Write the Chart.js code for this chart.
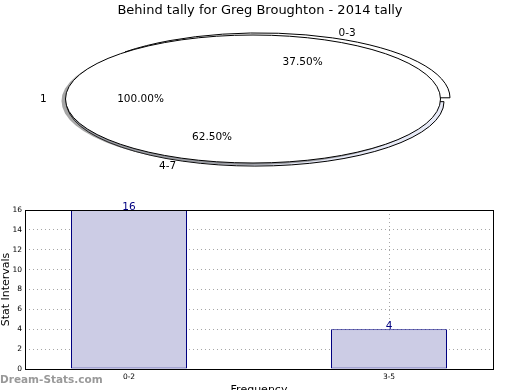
<!DOCTYPE html>
<html>
<head>
<meta charset="utf-8">
<script src="https://cdn.jsdelivr.net/npm/chart.js@4"></script>
<style>
  html, body { margin: 0; padding: 0; background: #fff; overflow: hidden; }
  body { width: 520px; height: 390px; position: relative; }
  canvas { position: absolute; left: 0; }
  #title { position: absolute; left: 0; top: 2px; width: 520px; text-align: center;
           font: 13px "DejaVu Sans", sans-serif; color: #000; }
</style>
</head>
<body>
<canvas id="barChart" width="520" height="207" style="top:190px;width:520px;height:207px"></canvas>
<canvas id="tallyPie" width="520" height="200" style="top:0;width:520px;height:200px"></canvas>
<canvas id="mainPie" width="520" height="200" style="top:0;width:520px;height:200px"></canvas>
<div id="title">Behind tally for Greg Broughton - 2014 tally</div>
<script>
// data
const pieCats = ['1'];
const pieVals = [1];
const tallyCats = ['0-3', '4-7'];
const tallyVals = [6, 10];
const barCats = ['0-2', '3-5'];
const barVals = [16, 4];

const FONT = '"DejaVu Sans", sans-serif';
const RATIO = 64 / 187.5; // ellipse squash

// flattens the pie vertically, keeps stroke widths even
const squash = {
    id: 'squash',
    beforeDatasetsDraw(chart, args, opts) {
        const ctx = chart.ctx;
        const a = chart.chartArea;
        const cy = (a.top + a.bottom) / 2;
        const dpr = chart.currentDevicePixelRatio;
        const proto = CanvasRenderingContext2D.prototype;
        ctx.save();
        ctx.translate(0, cy);
        ctx.scale(1, RATIO);
        ctx.translate(0, -cy);
        if (opts.shadow) {
            ctx.shadowColor = 'rgba(77,77,77,0.5)';
            ctx.shadowOffsetX = -4;
            ctx.shadowOffsetY = 2;
            ctx.shadowBlur = 0;
        }
        ctx.stroke = function () {
            this.save();
            this.setTransform(dpr, 0, 0, dpr, 0, 0);
            this.shadowColor = 'rgba(0,0,0,0)';
            proto.stroke.call(this);
            this.restore();
        };
        if (opts.seamless) {
            // full circle: no radius line to the centre
            ctx.lineTo = function () {};
            ctx.arc = function (x, y, r, ...rest) {
                if (r > 0.5) proto.arc.call(this, x, y, r, ...rest);
            };
        }
    },
    afterDatasetsDraw(chart) {
        const ctx = chart.ctx;
        delete ctx.stroke;
        delete ctx.lineTo;
        delete ctx.arc;
        ctx.restore();
    }
};

// matplotlib style labels: name at 1.1r, percent at 0.6r
function drawPieLabels(c, ctx) {
    const a = c.chartArea;
    const cy = (a.top + a.bottom) / 2;
    const ds = c.data.datasets[0];
    const vals = ds.data;
    const total = vals.reduce((s, v) => s + v, 0);
    const r = ds.radius;
    ctx.save();
    ctx.fillStyle = '#000';
    ctx.textBaseline = 'middle';
    ctx.font = '10.5px ' + FONT;
    c.getDatasetMeta(0).data.forEach((arc, i) => {
        const p = arc.getProps(['x', 'y', 'startAngle', 'endAngle']);
        const mid = (p.startAngle + p.endAngle) / 2;
        const ux = Math.cos(mid), uy = Math.sin(mid);
        const shift = (ds.offset ? ds.offset[i] : 0) / 4;
        const xAt = k => p.x + ux * (r * k + shift);
        const yAt = k => cy + (p.y + uy * (r * k + shift) - cy) * RATIO;
        ctx.textAlign = ux > 0.001 ? 'left' : 'right';
        ctx.fillText(c.data.labels[i], xAt(1.1), yAt(1.1));
        ctx.textAlign = 'center';
        ctx.fillText((vals[i] / total * 100).toFixed(2) + '%', xAt(0.6), yAt(0.6));
    });
    ctx.restore();
}

let tallyChart;
const pieLabels = {
    id: 'pieLabels',
    afterDatasetsDraw(chart) {
        [tallyChart, chart].forEach(c => drawPieLabels(c, chart.ctx));
    }
};

tallyChart = new Chart(document.getElementById('tallyPie'), {
    type: 'pie',
    data: {
        labels: tallyCats,
        datasets: [{
            data: tallyVals,
            radius: 187.5,
            backgroundColor: ['#ffffff', '#e7eaf7'],
            borderColor: '#000',
            borderWidth: 1,
            offset: [40.6, 5.6],
            clip: false
        }]
    },
    options: {
        responsive: false,
        animation: false,
        rotation: -45,
        layout: { padding: { left: 0, right: 8.7, top: 2.3, bottom: 0 } },
        events: [],
        plugins: { legend: { display: false }, tooltip: { enabled: false }, squash: { shadow: false } }
    },
    plugins: [squash]
});

new Chart(document.getElementById('mainPie'), {
    type: 'pie',
    data: {
        labels: pieCats,
        datasets: [{
            data: pieVals,
            radius: 187.5,
            backgroundColor: '#ffffff',
            borderColor: '#000',
            borderWidth: 1,
            clip: false
        }]
    },
    options: {
        responsive: false,
        animation: false,
        rotation: 90,
        layout: { padding: { left: 0, right: 14, top: 0, bottom: 2 } },
        events: [],
        plugins: { legend: { display: false }, tooltip: { enabled: false }, squash: { shadow: true, seamless: true } }
    },
    plugins: [squash, pieLabels]
});

// frame, value labels, watermark
const barExtras = {
    id: 'barExtras',
    afterDraw(chart) {
        const ctx = chart.ctx;
        const a = chart.chartArea;
        ctx.save();
        ctx.strokeStyle = '#000';
        ctx.lineWidth = 1;
        ctx.strokeRect(a.left + 0.5, a.top + 0.5, a.right - a.left, a.bottom - a.top);
        ctx.fillStyle = '#000080';
        ctx.font = '10.5px ' + FONT;
        ctx.textAlign = 'center';
        ctx.textBaseline = 'alphabetic';
        chart.getDatasetMeta(0).data.forEach((bar, i) => {
            ctx.fillText(String(barVals[i]), bar.x, bar.y);
        });
        ctx.fillStyle = '#999';
        ctx.font = 'bold 10.5px ' + FONT;
        ctx.textAlign = 'left';
        ctx.textBaseline = 'middle';
        ctx.fillText('Dream-Stats.com', 0, 190);
        ctx.restore();
    }
};

new Chart(document.getElementById('barChart'), {
    type: 'bar',
    data: {
        datasets: [{
            data: barCats.map((c, i) => ({ x: i, y: barVals[i] })),
            backgroundColor: '#ccccE5',
            borderColor: '#000080',
            borderWidth: 1,
            borderSkipped: false,
            barPercentage: 116 / 260,
            categoryPercentage: 1
        }]
    },
    options: {
        responsive: false,
        animation: false,
        events: [],
        layout: { padding: { left: 0, right: 27, top: 20, bottom: 0 } },
        plugins: { legend: { display: false }, tooltip: { enabled: false } },
        scales: {
            x: {
                type: 'linear',
                min: -0.4,
                max: 1.4,
                offset: false,
                z: 1,
                afterFit: s => { s.height = 28; },
                ticks: {
                    stepSize: 1,
                    includeBounds: false,
                    callback: v => barCats[v] ?? '',
                    color: '#000',
                    font: { family: FONT, size: 7.5 },
                    padding: 4
                },
                grid: { offset: false, color: 'rgba(0,0,0,0.35)', drawTicks: false },
                border: { display: false, dash: [1, 3] },
                title: { display: true, text: 'Frequency', color: '#000', font: { family: FONT, size: 11 }, padding: 0 }
            },
            y: {
                min: 0,
                max: 16,
                z: 1,
                afterFit: s => { s.width = 25; },
                ticks: { stepSize: 2, color: '#000', font: { family: FONT, size: 7.5 }, padding: 3 },
                grid: { color: 'rgba(0,0,0,0.35)', drawTicks: false },
                border: { display: false, dash: [1, 3] },
                title: { display: true, text: 'Stat Intervals', color: '#000', font: { family: FONT, size: 11 }, padding: 0 }
            }
        }
    },
    plugins: [barExtras]
});
</script>
</body>
</html>
